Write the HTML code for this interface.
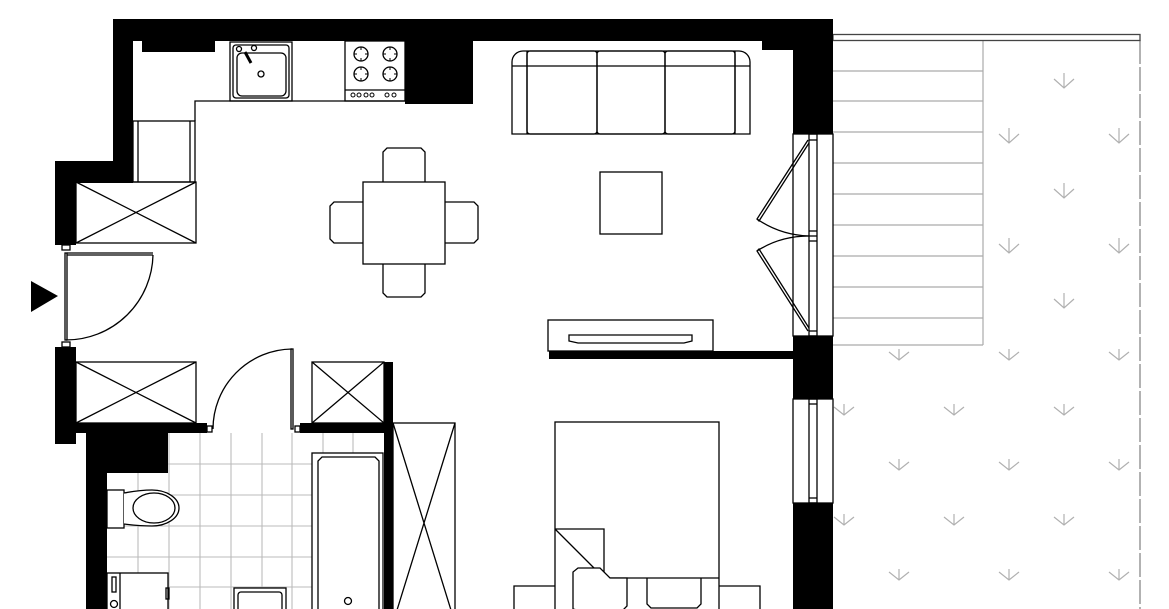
<!DOCTYPE html>
<html><head><meta charset="utf-8"><style>html,body{margin:0;padding:0;background:#fff}svg{display:block}</style></head>
<body>
<svg width="1169" height="609" viewBox="0 0 1169 609" xmlns="http://www.w3.org/2000/svg">
<rect width="1169" height="609" fill="#fff"/>
<g stroke="#aaa" stroke-width="1.2" fill="none">
<line x1="833" y1="71" x2="983" y2="71"/><line x1="833" y1="101" x2="983" y2="101"/><line x1="833" y1="132" x2="983" y2="132"/>
<line x1="833" y1="163" x2="983" y2="163"/><line x1="833" y1="194" x2="983" y2="194"/><line x1="833" y1="225" x2="983" y2="225"/>
<line x1="833" y1="256" x2="983" y2="256"/><line x1="833" y1="287" x2="983" y2="287"/><line x1="833" y1="318" x2="983" y2="318"/>
<line x1="833" y1="345" x2="983" y2="345"/><line x1="983" y1="40" x2="983" y2="345"/>
</g>
<line x1="1140" y1="40" x2="1140" y2="609" stroke="#888" stroke-width="1.3" stroke-dasharray="24,3"/>
<rect x="833" y="34.5" width="307" height="6" fill="none" stroke="#444" stroke-width="1.3"/>
<g stroke="#b0b0b0" stroke-width="1.2" fill="none">
<path d="M1064 73v15M1054 79l10 9 10-9"/>
<path d="M1009 128v15M999 134l10 9 10-9"/><path d="M1119 128v15M1109 134l10 9 10-9"/>
<path d="M1064 183v15M1054 189l10 9 10-9"/>
<path d="M1009 238v15M999 244l10 9 10-9"/><path d="M1119 238v15M1109 244l10 9 10-9"/>
<path d="M1064 293v15M1054 299l10 9 10-9"/>
<path d="M899 349v11M889 352l10 8 10-8"/><path d="M1009 349v11M999 352l10 8 10-8"/><path d="M1119 349v11M1109 352l10 8 10-8"/>
<path d="M844 404v11M834 407l10 8 10-8"/><path d="M954 404v11M944 407l10 8 10-8"/><path d="M1064 404v11M1054 407l10 8 10-8"/>
<path d="M899 459v11M889 462l10 8 10-8"/><path d="M1009 459v11M999 462l10 8 10-8"/><path d="M1119 459v11M1109 462l10 8 10-8"/>
<path d="M844 514v11M834 517l10 8 10-8"/><path d="M954 514v11M944 517l10 8 10-8"/><path d="M1064 514v11M1054 517l10 8 10-8"/>
<path d="M899 569v11M889 572l10 8 10-8"/><path d="M1009 569v11M999 572l10 8 10-8"/><path d="M1119 569v11M1109 572l10 8 10-8"/>
</g>
<g stroke="#bbb" stroke-width="1.1">
<line x1="138" y1="433" x2="138" y2="609"/><line x1="169" y1="433" x2="169" y2="609"/><line x1="200" y1="433" x2="200" y2="609"/>
<line x1="231" y1="433" x2="231" y2="609"/><line x1="262" y1="433" x2="262" y2="609"/><line x1="292" y1="433" x2="292" y2="609"/>
<line x1="323" y1="433" x2="323" y2="453"/><line x1="353" y1="433" x2="353" y2="453"/>
<line x1="107" y1="464" x2="312" y2="464"/><line x1="107" y1="495" x2="312" y2="495"/><line x1="107" y1="526" x2="312" y2="526"/>
<line x1="107" y1="557" x2="312" y2="557"/><line x1="107" y1="587" x2="312" y2="587"/>
</g>
<g fill="#000">
<rect x="113" y="19" width="720" height="22"/>
<rect x="113" y="19" width="20" height="164"/>
<rect x="55" y="161" width="78" height="22"/>
<rect x="55" y="161" width="21" height="84"/>
<rect x="142" y="41" width="73" height="11"/>
<rect x="405" y="41" width="68" height="63"/>
<rect x="762" y="41" width="31" height="9"/>
<rect x="793" y="19" width="40" height="115"/>
<rect x="793" y="336" width="40" height="63"/>
<rect x="793" y="503" width="40" height="106"/>
<rect x="549" y="351" width="244" height="8"/>
<rect x="55" y="347" width="21" height="97"/>
<rect x="55" y="423" width="152" height="10"/>
<rect x="86" y="423" width="21" height="186"/>
<rect x="86" y="433" width="82" height="40"/>
<rect x="300" y="423" width="93" height="10"/>
<rect x="384" y="362" width="9" height="247"/>
</g>
<g fill="none" stroke="#000" stroke-width="1.3">
<rect x="62" y="245" width="8" height="5"/><rect x="62" y="342" width="8" height="5"/>
<rect x="207" y="426" width="5" height="6"/><rect x="295" y="426" width="5" height="6"/>
<rect x="65" y="253" width="2" height="87"/>
<line x1="67" y1="253" x2="153" y2="253"/><line x1="67" y1="255" x2="153" y2="255"/>
<path d="M153 255 A87 87 0 0 1 66 340"/>
<rect x="291" y="349" width="2" height="80"/>
<path d="M213 429 A80 80 0 0 1 292 349"/>
<rect x="76" y="182" width="120" height="61"/><path d="M76 182L196 243M196 182L76 243"/>
<rect x="76" y="362" width="120" height="61"/><path d="M76 362L196 423M196 362L76 423"/>
<rect x="312" y="362" width="72" height="61"/><path d="M312 362L384 423M384 362L312 423"/>
<rect x="393" y="423" width="62" height="200"/><path d="M393 423L455 623M455 423L393 623"/>
<rect x="133" y="121" width="62" height="61"/><line x1="138" y1="121" x2="138" y2="182"/><line x1="190" y1="121" x2="190" y2="182"/>
<path d="M195 121V101H405"/>
<rect x="230" y="42" width="62" height="59"/><rect x="233" y="45" width="56" height="53" rx="3"/>
<rect x="237" y="53" width="49" height="43" rx="5"/>
<circle cx="261" cy="74" r="3"/><circle cx="239" cy="49" r="2.5"/><circle cx="254" cy="48" r="2.5"/>
<path d="M245 52l6 11" stroke-width="3"/>
<rect x="345" y="41" width="60" height="60"/><line x1="345" y1="90" x2="405" y2="90"/>
<circle cx="361" cy="54" r="7"/><circle cx="390" cy="54" r="7"/><circle cx="361" cy="74" r="7"/><circle cx="390" cy="74" r="7"/>
<path d="M361 47v3M361 58v3M354 54h3M365 54h3M390 47v3M390 58v3M383 54h3M394 54h3M361 67v3M361 78v3M354 74h3M365 74h3M390 67v3M390 78v3M383 74h3M394 74h3" stroke-width="1"/>
<g stroke-width="1"><circle cx="353" cy="95" r="2"/><circle cx="359" cy="95" r="2"/><circle cx="366" cy="95" r="2"/><circle cx="372" cy="95" r="2"/><circle cx="387" cy="95" r="2"/><circle cx="394" cy="95" r="2"/></g>
<rect x="363" y="182" width="82" height="82"/>
<path d="M383 182V152l4-4h34l4 4V182"/>
<path d="M383 264V293l4 4h34l4-4V264"/>
<path d="M363 202H334l-4 4v33l4 4H363"/>
<path d="M445 202H474l4 4v33l-4 4H445"/>
<path d="M512 134V62a11 11 0 0 1 11-11H739a11 11 0 0 1 11 11V134Z"/>
<line x1="512" y1="66" x2="750" y2="66"/>
<path d="M527 51V134M735 51V134"/>
<rect x="527" y="51" width="70" height="83" rx="3"/><rect x="597" y="51" width="68" height="83" rx="3"/><rect x="665" y="51" width="70" height="83" rx="3"/>
<rect x="600" y="172" width="62" height="62"/>
<rect x="548" y="320" width="165" height="31"/>
<path d="M569 335H692V341L684 343H578L569 341Z"/>
<rect x="793" y="134" width="40" height="202"/>
<rect x="809" y="134" width="8" height="202"/>
<line x1="809" y1="140" x2="817" y2="140"/><line x1="809" y1="231" x2="817" y2="231"/><line x1="809" y1="236" x2="817" y2="236"/><line x1="809" y1="241" x2="817" y2="241"/><line x1="809" y1="331" x2="817" y2="331"/>
<path d="M808 140L757 219L759 221L809 143"/>
<path d="M808 331L757 251L759 249L809 328"/>
<path d="M757 219Q780 235 809 236"/><path d="M757 251Q780 236 809 236"/>
<rect x="793" y="399" width="40" height="104"/>
<rect x="809" y="399" width="8" height="104"/>
<line x1="809" y1="404" x2="817" y2="404"/><line x1="809" y1="498" x2="817" y2="498"/>
<rect x="555" y="422" width="164" height="200"/>
<path d="M555 529H604V578M555 529L604 578"/>
<path d="M604 578H719"/>
<path d="M573 609V572l5-4h22l10 10h17V606l-4 4H577Z" fill="#fff"/>
<path d="M647 578V604l4 4H697l4-4V578"/>
<path d="M555 586H514V612M719 586H760V612"/>
<rect x="312" y="453" width="71" height="160" fill="#fff"/>
<path d="M318 612V461l4-4H375l4 4V612"/>
<circle cx="348" cy="601" r="3.5"/>
<rect x="107" y="490" width="17" height="38" fill="#fff"/>
<path d="M124 493Q140 490 152 490A27 18 0 0 1 152 526Q140 526 124 524" fill="#fff"/>
<ellipse cx="154" cy="508" rx="21" ry="15"/>
<rect x="107" y="573" width="61" height="40" fill="#fff"/>
<line x1="120" y1="573" x2="120" y2="612"/>
<rect x="112" y="577" width="4" height="15"/><circle cx="114" cy="604" r="3.5"/>
<rect x="166" y="588" width="3" height="11"/>
<rect x="234" y="588" width="52" height="25" fill="#fff"/><rect x="238" y="592" width="44" height="22" rx="3"/>
</g>
<polygon points="31,281 31,312 58,296" fill="#000"/>
</svg>
</body></html>
